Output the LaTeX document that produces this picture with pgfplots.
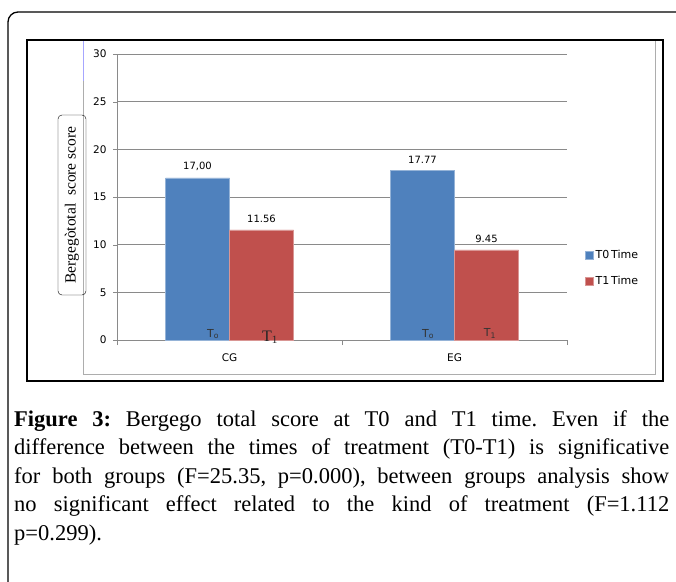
\documentclass[border=0pt]{standalone}
\usepackage{fontspec}
\setmainfont{Liberation Serif}
\newfontfamily\chartfont{DejaVu Sans}
\usepackage{pgfplots}
\pgfplotsset{compat=1.18}
\usepackage{pgfplotstable}
\definecolor{barblue}{HTML}{4F81BD}
\definecolor{barred}{HTML}{C0504D}
\definecolor{gridgray}{HTML}{8A8A8A}

\pgfplotstableread{
x y lab
0 17.00 17,00
1 17.77 17.77
}\tzero
\pgfplotstableread{
x y lab
0 11.56 11.56
1 9.45 9.45
}\tone

\begin{document}
\begin{tikzpicture}
\useasboundingbox (0,0) rectangle (676pt,581pt);
\clip (0,0) rectangle (676pt,581pt);
% outer rounded frame
\draw[line width=1.3pt, rounded corners=10pt] (8pt,-20pt) -- (8pt,569pt) -- (720pt,569pt);
% chart area frame
\draw[gridgray!70, line width=0.8pt] (83pt,207pt) rectangle (655pt,541pt);
\draw[blue!35, line width=0.8pt] (83pt,541pt) -- (83pt,500pt);
% inner black box
\draw[line width=1.2pt] (27pt,200pt) rectangle (663pt,541pt);
% y label box
\node[draw, rounded corners=4pt, rotate=90, minimum width=180pt, minimum height=28pt, inner sep=0pt,
      font=\fontsize{15.5}{18}\selectfont] at (72pt,376pt) {Bergegòtotal\ \ score score};
\begin{axis}[
  at={(117pt,241pt)}, anchor=south west,
  scale only axis, width=450pt, height=286pt,
  ymin=0, ymax=30, xmin=-0.5, xmax=1.5,
  ybar=0pt, bar width=64pt,
  ytick={0,5,...,30},
  xtick={0,1}, xticklabels={CG,EG},
  major x tick style={draw=none},
  extra x ticks={-0.5,0.5,1.5}, extra x tick labels={},
  extra x tick style={major x tick style={draw=gridgray}, major tick length=5pt},
  axis x line*=bottom, axis y line*=left,
  axis line style={draw=gridgray,-},
  ymajorgrids, grid style={gridgray, line width=0.8pt},
  tick align=outside, major tick length=4pt,
  y tick style={gridgray},
  /pgf/number format/assume math mode=true,
  tick label style={font=\chartfont\fontsize{10.5}{12}\selectfont},
  yticklabel style={xshift=-3pt},
  xticklabel style={yshift=-6pt},
  clip=false,
  nodes near coords, point meta=explicit symbolic,
  every node near coord/.append style={font=\chartfont\fontsize{10}{12}\selectfont, yshift=4pt},
  legend style={at={(1.04,0.252)}, anchor=west, draw=none, inner sep=0pt,
     font=\chartfont\fontsize{11}{12}\selectfont, row sep=12pt, legend cell align=left},
  legend image code/.code={\fill[#1] (0pt,-4pt) rectangle (8pt,4pt);},
]
\addplot[fill=barblue, draw=barblue!60!white] table[x=x,y=y,meta=lab]{\tzero};
\addplot[fill=barred, draw=barred!60!white] table[x=x,y=y,meta=lab]{\tone};
\legend{T0\,Time, T1\,Time}
\node[anchor=south, inner sep=1pt, font=\chartfont\fontsize{11}{12}\selectfont, text=black!80] at (axis cs:0,0) [xshift=-16.5pt] {T\textsubscript{o}};
\node[anchor=south, inner sep=0pt, font=\fontsize{16}{16}\selectfont, text=black!85] at (axis cs:0,0) [xshift=40.5pt, yshift=-4pt] {T\textsubscript{1}};
\node[anchor=south, inner sep=1pt, font=\chartfont\fontsize{11}{12}\selectfont, text=black!80] at (axis cs:1,0) [xshift=-26.5pt] {T\textsubscript{o}};
\node[anchor=south, inner sep=1pt, font=\chartfont\fontsize{11}{12}\selectfont, text=black!80] at (axis cs:1,0) [xshift=35.5pt] {T\textsubscript{1}};
\end{axis}
% caption
\node[anchor=north west, inner sep=0pt, text width=655pt, align=justify,
      font=\fontsize{22.5}{28.5}\selectfont] at (14pt,171pt)
{\frenchspacing\textbf{Figure 3:} Bergego total score at T0 and T1 time. Even if the\linebreak
difference between the times of treatment (T0-T1) is significative\linebreak
for both groups (F=25.35, p=0.000), between groups analysis show\linebreak
no significant effect related to the kind of treatment (F=1.112\linebreak
p=0.299).\par};
\end{tikzpicture}
\end{document}
